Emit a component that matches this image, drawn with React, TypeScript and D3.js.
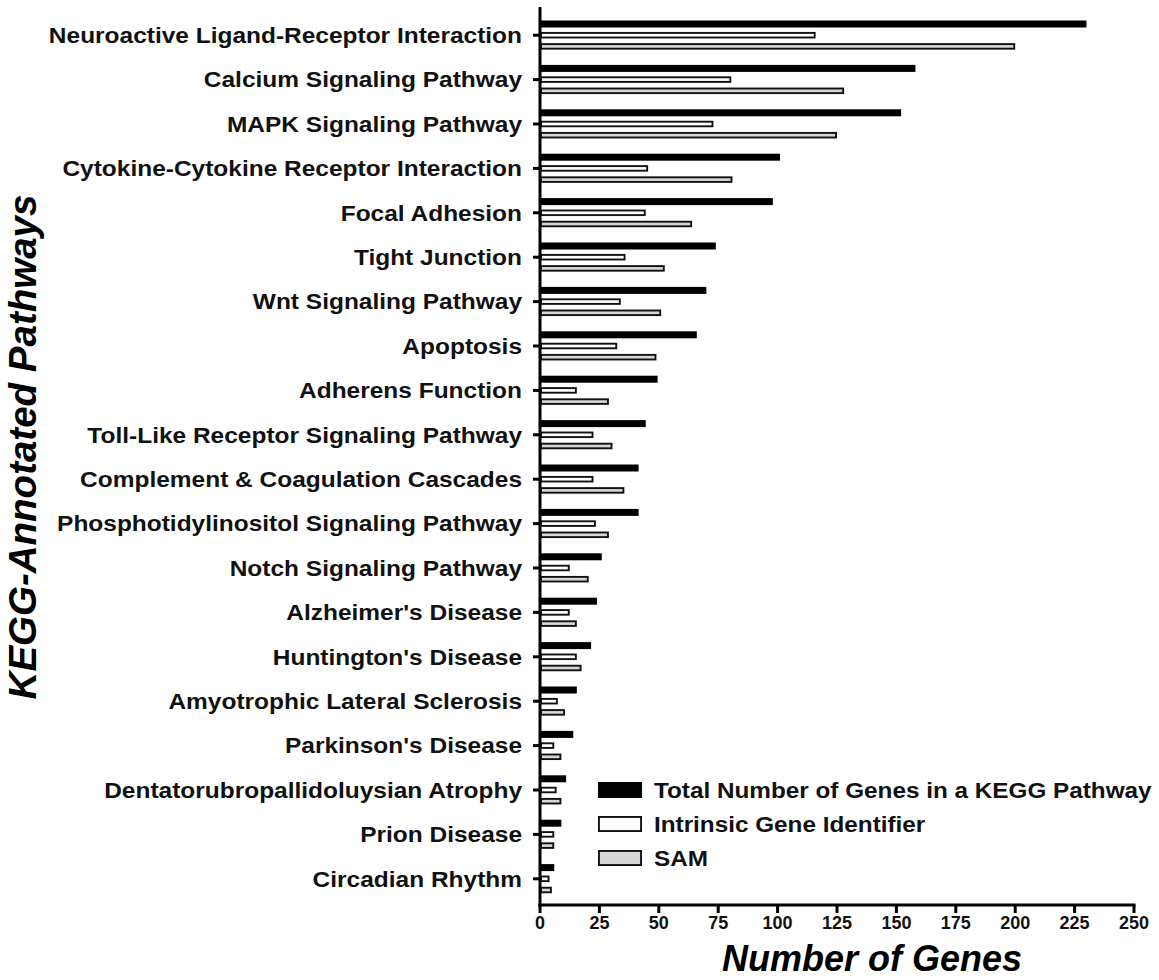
import React from "react";
import * as d3 from "d3";

const categories = [
  "Neuroactive Ligand-Receptor Interaction",
  "Calcium Signaling Pathway",
  "MAPK Signaling Pathway",
  "Cytokine-Cytokine Receptor Interaction",
  "Focal Adhesion",
  "Tight Junction",
  "Wnt Signaling Pathway",
  "Apoptosis",
  "Adherens Function",
  "Toll-Like Receptor Signaling Pathway",
  "Complement & Coagulation Cascades",
  "Phosphotidylinositol Signaling Pathway",
  "Notch Signaling Pathway",
  "Alzheimer's Disease",
  "Huntington's Disease",
  "Amyotrophic Lateral Sclerosis",
  "Parkinson's Disease",
  "Dentatorubropallidoluysian Atrophy",
  "Prion Disease",
  "Circadian Rhythm",
];

const totalGenes = [230, 158, 152, 101, 98, 74, 70, 66, 49.5, 44.5, 41.5, 41.5, 26, 24, 21.5, 15.5, 14, 11, 9, 6];
const intrinsicGenes = [116, 80.5, 73, 45.5, 44.5, 36, 34, 32.5, 15.5, 22.5, 22.5, 23.5, 12.5, 12.5, 15.5, 7.5, 6, 7, 6, 4];
const samGenes = [200, 128, 125, 81, 64, 52.5, 51, 49, 29, 30.5, 35.5, 29, 20.5, 15.5, 17.5, 10.5, 9, 9, 6, 5];

const seriesNames = [
  "Total Number of Genes in a KEGG Pathway",
  "Intrinsic Gene Identifier",
  "SAM",
];
const seriesValues = [totalGenes, intrinsicGenes, samGenes];
const xTicks = [0, 25, 50, 75, 100, 125, 150, 175, 200, 225, 250];

const styles = [
  { fill: "#000", stroke: "none", h: 7 },
  { fill: "#fff", stroke: "#111", h: 6.5 },
  { fill: "#d6d6d6", stroke: "#111", h: 6.5 },
];

const FONT = "'Liberation Sans', Arial, Helvetica, sans-serif";

export default function App() {
  const W = 1159;
  const H = 980;
  const x = d3.scaleLinear().domain([0, 250]).range([540, 1134]);
  const y = d3.scaleBand().domain(categories).range([13, 901]).padding(0);
  const sub = d3.scalePoint().domain(seriesNames).range([-11.2, 11.2]);
  const axisY = 905;
  const yc = (c: string) => (y(c) as number) + y.bandwidth() / 2;

  return (
    <svg
      width={W}
      height={H}
      style={{ position: "absolute", left: 0, top: 0, background: "#fff" }}
      fontFamily={FONT}
    >
      {/* bars */}
      {seriesNames.map((s, si) =>
        categories.map((c, ci) => {
          const st = styles[si];
          const cy = yc(c) + (sub(s) as number);
          const v = seriesValues[si][ci];
          const sw = st.stroke === "none" ? 0 : 1.9;
          return (
            <rect
              key={s + c}
              x={x(0) + sw / 2}
              y={cy - st.h / 2 + sw / 2}
              width={Math.max(0, x(v) - x(0) - sw)}
              height={st.h - sw}
              fill={st.fill}
              stroke={st.stroke}
              strokeWidth={sw}
            />
          );
        })
      )}

      {/* y axis */}
      <line x1={x(0)} x2={x(0)} y1={7} y2={axisY + 1.5} stroke="#000" strokeWidth={3} />
      {categories.map((c) => (
        <g key={c}>
          <line x1={x(0) - 7} x2={x(0)} y1={yc(c)} y2={yc(c)} stroke="#000" strokeWidth={3} />
          <text
            transform={`translate(522,${yc(c)}) scale(1.088,1)`}
            textAnchor="end"
            dy="0.35em"
            fontSize={22.5}
            fontWeight="bold"
            fill="#111"
          >
            {c}
          </text>
        </g>
      ))}

      {/* x axis */}
      <line x1={x(0) - 1.5} x2={x(250) + 1.5} y1={axisY} y2={axisY} stroke="#000" strokeWidth={3} />
      {xTicks.map((t) => (
        <g key={t}>
          <line x1={x(t)} x2={x(t)} y1={axisY} y2={axisY + 8} stroke="#000" strokeWidth={3} />
          <text x={x(t)} y={axisY + 24} textAnchor="middle" fontSize={18} fontWeight="bold" fill="#111">
            {t}
          </text>
        </g>
      ))}

      {/* axis titles */}
      <text
        x={(x(0) + x(250)) / 2 + 35}
        y={971}
        textAnchor="middle"
        fontSize={36}
        fontWeight="bold"
        fontStyle="italic"
        fill="#000"
      >
        Number of Genes
      </text>
      <text
        transform={`translate(36,447) rotate(-90)`}
        textAnchor="middle"
        fontSize={38.5}
        fontWeight="bold"
        fontStyle="italic"
        fill="#000"
      >
        KEGG-Annotated Pathways
      </text>

      {/* legend */}
      {seriesNames.map((s, si) => {
        const st = styles[si];
        const cy = 790 + si * 34;
        const sw = st.stroke === "none" ? 0 : 1.9;
        return (
          <g key={s}>
            <rect
              x={598 + sw / 2}
              y={cy - 8 + sw / 2}
              width={44 - sw}
              height={16 - sw}
              fill={st.fill}
              stroke={st.stroke}
              strokeWidth={sw}
            />
            <text
              transform={`translate(654,${cy}) scale(1.08,1)`}
              dy="0.35em"
              fontSize={22.5}
              fontWeight="bold"
              fill="#111"
            >
              {s}
            </text>
          </g>
        );
      })}
    </svg>
  );
}
